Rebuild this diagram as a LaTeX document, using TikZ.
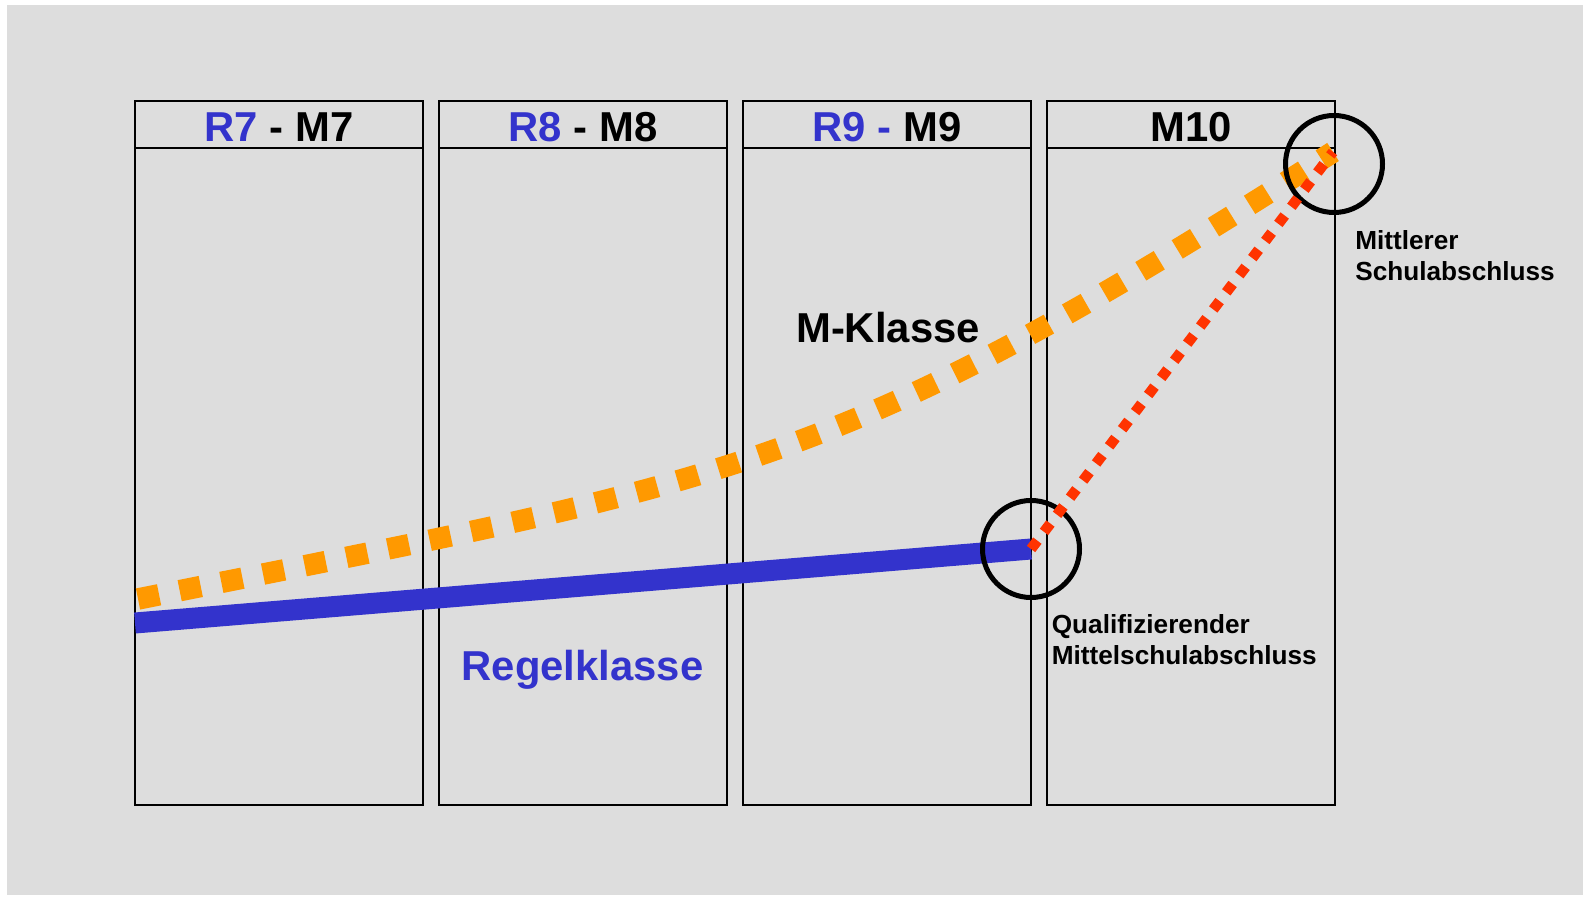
\documentclass[tikz,border=0pt]{standalone}
\usepackage{fontspec}
\setmainfont{Liberation Sans}
\usepackage{xcolor}
\usepackage{tikz}
\definecolor{bggrey}{HTML}{DDDDDD}
\definecolor{regblue}{HTML}{3333CC}
\definecolor{morange}{HTML}{FF9900}
\definecolor{qred}{HTML}{FF3300}
\tikzset{
  column/.style={draw=black, line width=0.04cm},
  headtext/.style={font=\fontsize{23.8pt}{28pt}\selectfont\bfseries, anchor=base, inner sep=0pt},
  ring/.style={circle, draw=black, line width=0.1cm, minimum size=1.94cm, inner sep=0pt},
  lbl/.style={font=\fontsize{14.9pt}{17.6pt}\selectfont\bfseries, align=left, anchor=north west, inner sep=0pt},
  regline/.style={draw=regblue, line width=0.42cm},
  mline/.style={draw=morange, line width=0.43cm, dash pattern=on 0.43cm off 0.42cm},
  qline/.style={draw=qred, line width=0.21cm, dash pattern=on 0.21cm off 0.22cm},
}

\begin{document}
\begin{tikzpicture}
    \fill[bggrey] (0.14,0.02) rectangle (31.66,17.82);
    \useasboundingbox (0,0) rectangle (31.7,17.92);

    % Jahrgangsstufen
    \foreach \x/\n/\txt in {2.70/7/{\textcolor{regblue}{R7} - M7},
                            8.78/8/{\textcolor{regblue}{R8} - M8},
                            14.86/9/{\textcolor{regblue}{R9 -} M9},
                            20.94/10/{M10}} {
      \draw[column] (\x,1.83) rectangle ++(5.76,14.07);
      \draw[column] (\x,14.95) -- ++(5.76,0);
      \node[headtext] (head\n) at (\x+2.88,15.09) {\txt};
    }

    \coordinate (regstart) at (2.70,5.46);
    \coordinate (mstart) at (2.76,5.94);
    \coordinate (mend) at (26.66,14.88);

    \draw[regline] (regstart) -- (20.62,6.94);
    \draw[mline] (mstart) .. controls (14.76,8.34) and (16.66,8.48) .. (mend);

    \node[ring] (qual) at (20.62,6.94) {};
    \node[ring] (mittl) at (26.68,14.64) {};

    \draw[qline] (qual.center) -- (mend);

    \node[headtext] (mkl) at (17.76,11.06) {M-Klasse};
    \node[headtext, text=regblue] (regkl) at (11.65,4.32) {Regelklasse};
    \node[lbl] (msa) at (27.10,13.32) {Mittlerer\\Schulabschluss};
    \node[lbl] (qma) at (21.03,5.64) {Qualifizierender\\Mittelschulabschluss};

    % \draw[help lines](0,0) grid (31,17);
\end{tikzpicture}
\end{document}
